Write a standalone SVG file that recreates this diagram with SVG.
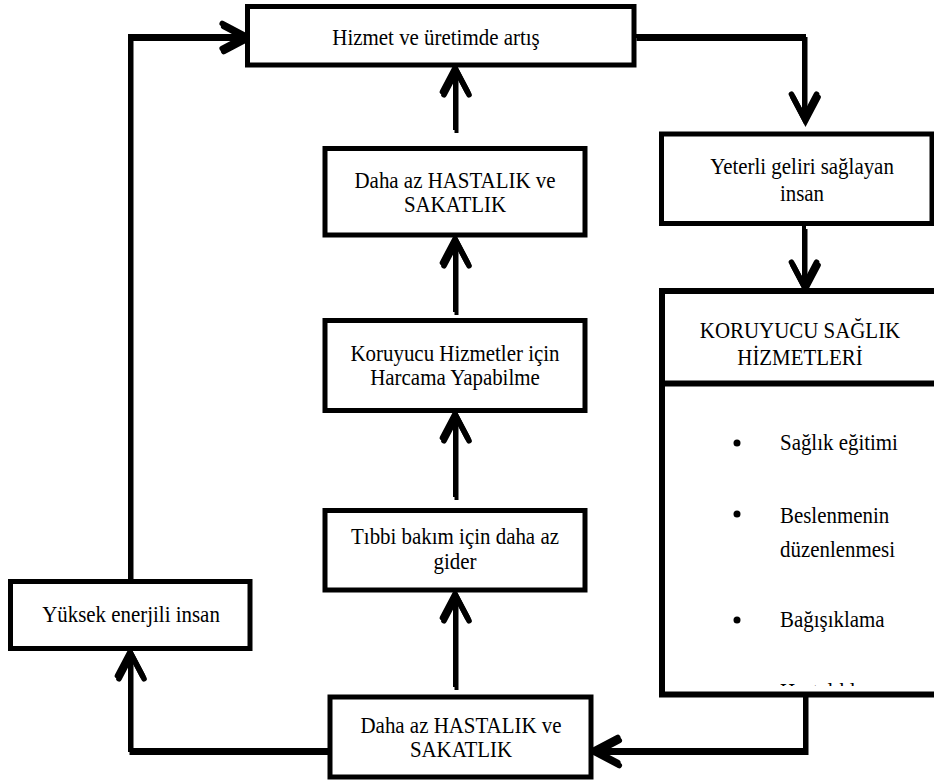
<svg xmlns="http://www.w3.org/2000/svg" xmlns:xlink="http://www.w3.org/1999/xlink" width="934" height="783" viewBox="0 0 934 783" font-family="'Liberation Serif', 'DejaVu Serif', 'Noto Serif', serif">
  <style>
    .box { fill: #ffffff; stroke: #000000; stroke-width: 5; }
    .box-wide { fill: #ffffff; stroke: #000000; stroke-width: 6; }
    .rule { stroke: #000000; stroke-width: 6; }
    text { font-family: 'Liberation Serif', 'DejaVu Serif', 'Noto Serif', serif; font-size: 23px; fill: #000000; }
    .lbl { text-anchor: middle; }
    .item { text-anchor: start; }
    .dot { fill: #000000; }
    .links { fill: none; stroke: #000000; stroke-width: 4; stroke-linejoin: miter; marker-end: url(#head); }
    .links-shadow { fill: none; stroke: #a3a3a3; stroke-width: 4; marker-end: url(#head-shadow); }
  </style>
  <defs>
    <marker id="head" markerUnits="userSpaceOnUse" markerWidth="40" markerHeight="40" viewBox="-25 -16 30 32" refX="0" refY="0" orient="auto" overflow="visible">
      <path d="M-19,-10 L0,0 L-19,10" fill="none" stroke="#000000" stroke-width="4.5" stroke-linejoin="miter" stroke-linecap="round"/>
    </marker>
    <marker id="head-shadow" markerUnits="userSpaceOnUse" markerWidth="40" markerHeight="40" viewBox="-25 -16 30 32" refX="0" refY="0" orient="auto" overflow="visible">
      <path d="M-19,-10 L0,0 L-19,10" fill="none" stroke="#a3a3a3" stroke-width="4.5" stroke-linejoin="miter" stroke-linecap="round"/>
    </marker>
    <clipPath id="list-clip">
      <rect x="666" y="387" width="268" height="299"/>
    </clipPath>
  </defs>

  <rect width="934" height="783" fill="#ffffff"/>

  <!-- soft drop shadow under every connector -->
  <use xlink:href="#connectors" href="#connectors" class="links-shadow" transform="translate(1.5,3)"/>

  <g id="connectors" class="links">
    <!-- energetic people feed back into output -->
    <path d="M130,581 V36 H246"/>
    <!-- output to adequate income -->
    <path d="M635,36 H804 V118"/>
    <!-- income to preventive services -->
    <path d="M804,226 V286"/>
    <!-- preventive services to less illness (bottom) -->
    <path d="M805,694 V750 H594"/>
    <!-- less illness (bottom) to energetic people -->
    <path d="M330,750 H130 V652"/>
    <!-- central column, bottom to top -->
    <path d="M455,687 V594"/>
    <path d="M455,497 V414"/>
    <path d="M455,312 V239"/>
    <path d="M455,130 V68"/>
  </g>

  <g id="node-output">
    <rect class="box" x="247.5" y="6.5" width="386.5" height="58.5"/>
    <text class="lbl" transform="translate(436,45) scale(0.91,1)">Hizmet ve üretimde artış</text>
  </g>

  <g id="node-less-illness-top">
    <rect class="box" x="325" y="148.5" width="260" height="86.5"/>
    <text class="lbl" transform="translate(455,188) scale(0.91,1)">Daha az HASTALIK ve</text>
    <text class="lbl" transform="translate(455,212) scale(0.91,1)">SAKATLIK</text>
  </g>

  <g id="node-spending">
    <rect class="box" x="325" y="320.5" width="260" height="90"/>
    <text class="lbl" transform="translate(455,361) scale(0.91,1)">Koruyucu Hizmetler için</text>
    <text class="lbl" transform="translate(455,385) scale(0.91,1)">Harcama Yapabilme</text>
  </g>

  <g id="node-medical-cost">
    <rect class="box" x="325" y="510.5" width="260" height="79.5"/>
    <text class="lbl" transform="translate(455,544) scale(0.91,1)">Tıbbi bakım için daha az</text>
    <text class="lbl" transform="translate(455,569) scale(0.91,1)">gider</text>
  </g>

  <g id="node-less-illness-bottom">
    <rect class="box" x="330" y="697" width="261" height="80"/>
    <text class="lbl" transform="translate(461,733) scale(0.91,1)">Daha az HASTALIK ve</text>
    <text class="lbl" transform="translate(461,757) scale(0.91,1)">SAKATLIK</text>
  </g>

  <g id="node-energetic">
    <rect class="box" x="10.5" y="581.5" width="239.5" height="67"/>
    <text class="lbl" transform="translate(131,622) scale(0.91,1)">Yüksek enerjili insan</text>
  </g>

  <g id="node-income">
    <rect class="box" x="661.5" y="134" width="270.5" height="89.5"/>
    <text class="lbl" transform="translate(802,174) scale(0.91,1)">Yeterli geliri sağlayan</text>
    <text class="lbl" transform="translate(802,201) scale(0.91,1)">insan</text>
  </g>

  <g id="node-preventive">
    <rect class="box-wide" x="662" y="291" width="290" height="403.5"/>
    <line class="rule" x1="662" y1="383.5" x2="940" y2="383.5"/>
    <text class="lbl" transform="translate(800,338) scale(0.91,1)">KORUYUCU SAĞLIK</text>
    <text class="lbl" transform="translate(800,365) scale(0.91,1)">HİZMETLERİ</text>
    <circle class="dot" cx="737" cy="443" r="3.5"/>
    <text class="item" transform="translate(780,450) scale(0.91,1)">Sağlık eğitimi</text>
    <circle class="dot" cx="737" cy="514" r="3.5"/>
    <text class="item" transform="translate(780,523) scale(0.91,1)">Beslenmenin</text>
    <text class="item" transform="translate(780,557) scale(0.91,1)">düzenlenmesi</text>
    <circle class="dot" cx="737" cy="620" r="3.5"/>
    <text class="item" transform="translate(780,627) scale(0.91,1)">Bağışıklama</text>
    <!-- next list entry runs past the frame and is cut off by it -->
    <g clip-path="url(#list-clip)">
      <text class="item" transform="translate(780,699) scale(0.91,1)">Hastalıkların</text>
    </g>
  </g>
</svg>
